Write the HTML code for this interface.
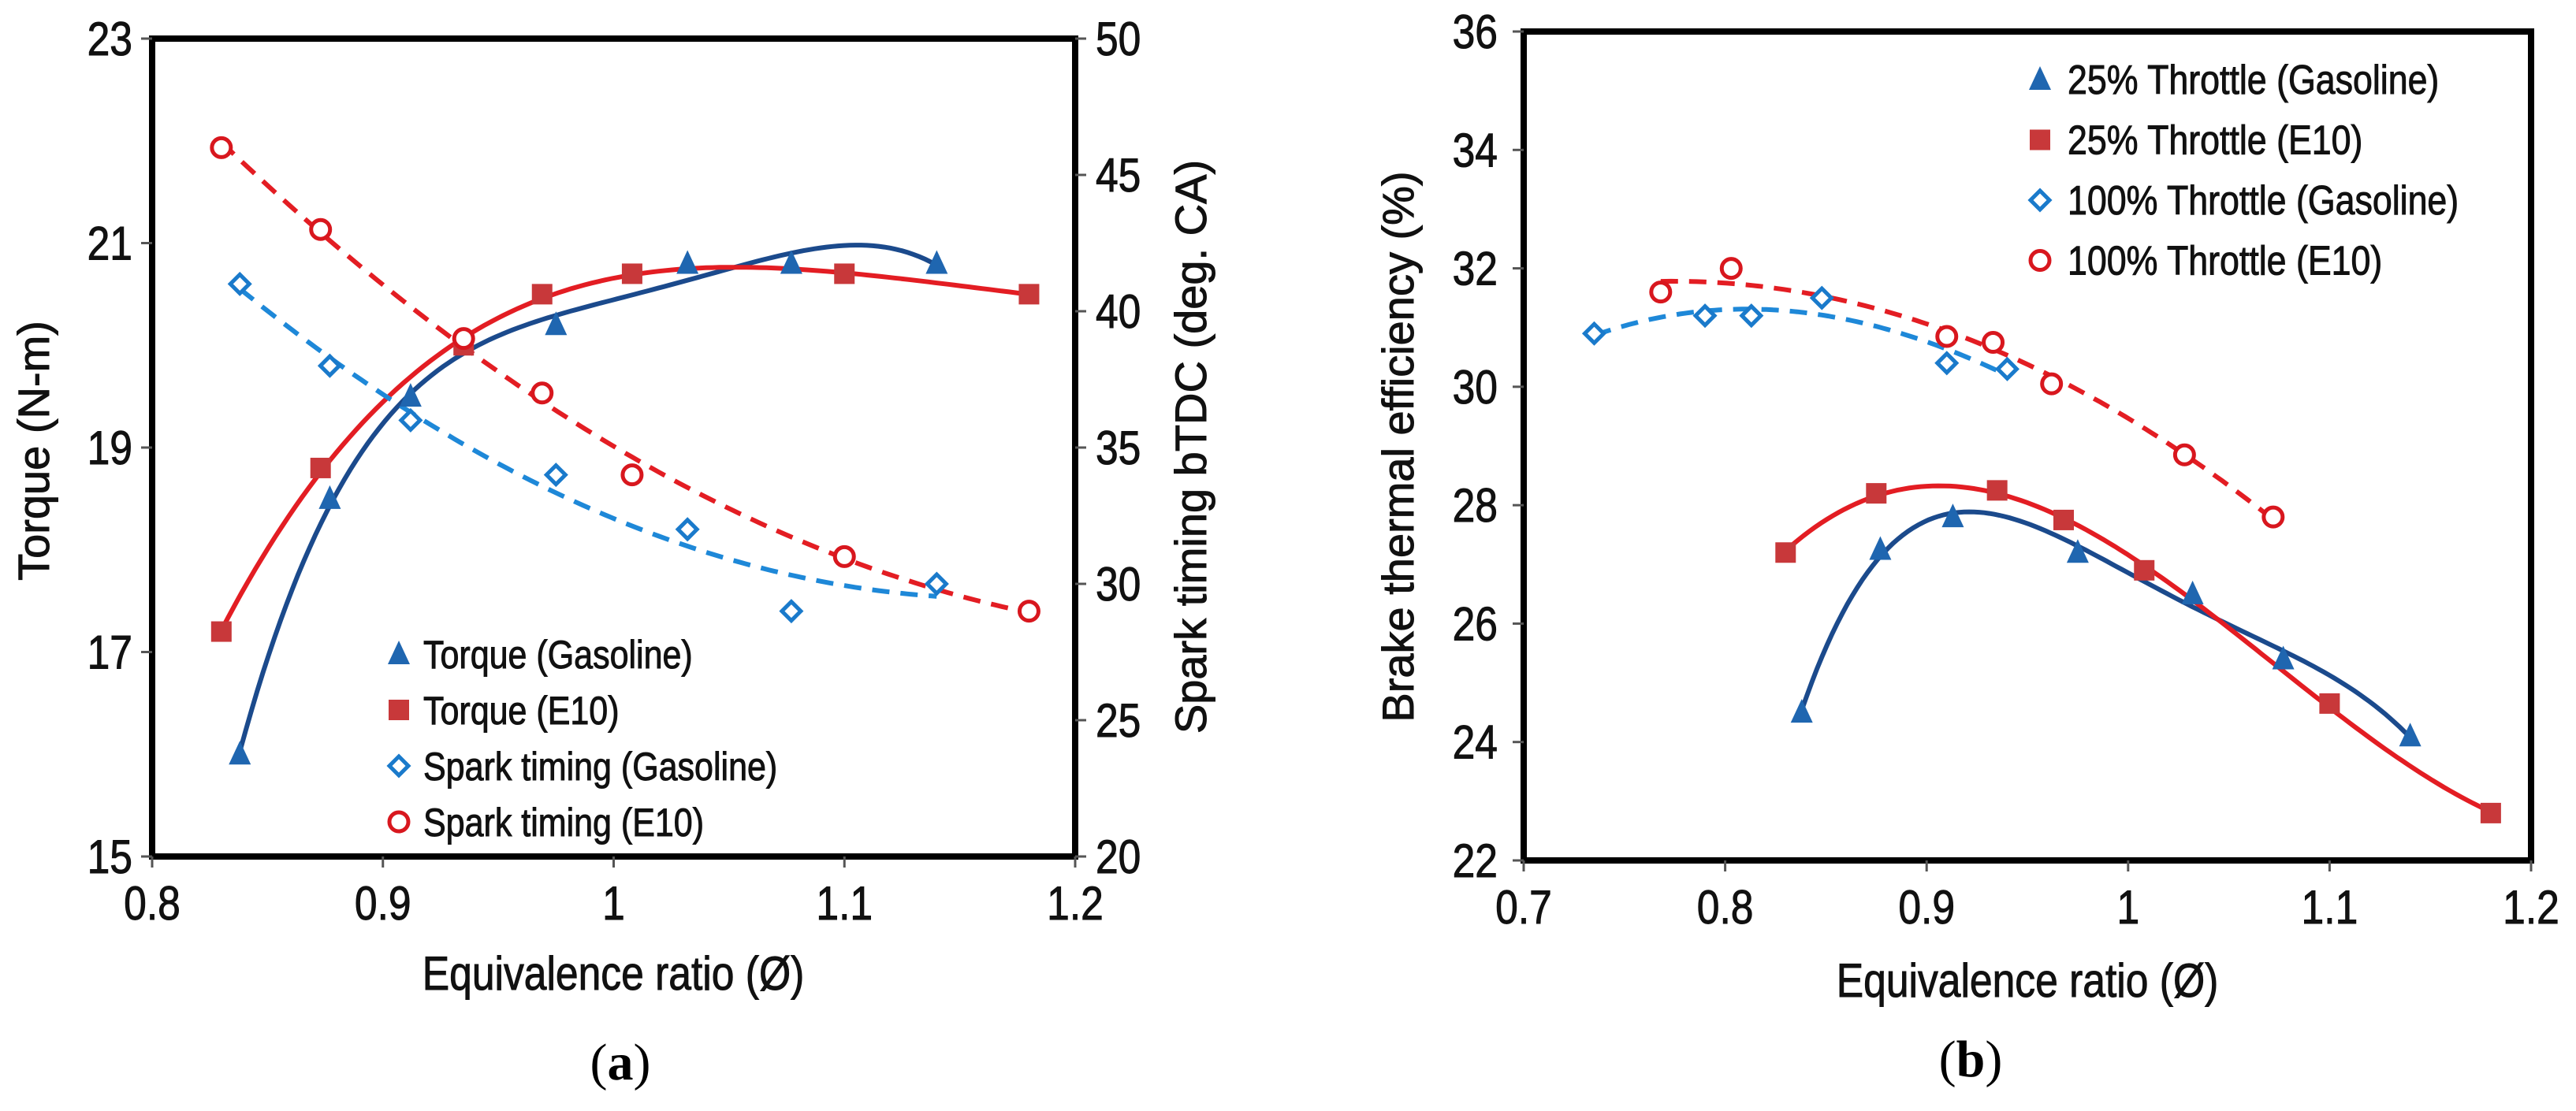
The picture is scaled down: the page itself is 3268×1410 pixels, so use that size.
<!DOCTYPE html>
<html><head><meta charset="utf-8"><style>
html,body{margin:0;padding:0;background:#fff;}
svg{display:block;}
</style></head>
<body>
<svg id="fig" width="3268" height="1410" viewBox="0 0 3268 1410" xmlns="http://www.w3.org/2000/svg" font-family="'Liberation Sans', sans-serif">
<rect width="3268" height="1410" fill="#fff"/>
<g id="chartA"></g>
<g id="chartB"></g>
</svg>
<script>
// ---- Chart (a) data ----
const aTorqueGasX = [0.838, 0.877, 0.912, 0.975, 1.032, 1.077, 1.14];
const aTorqueGasY = [16.0, 18.5, 19.5, 20.2, 20.8, 20.8, 20.8];
const aTorqueE10X = [0.83, 0.873, 0.935, 0.969, 1.008, 1.1, 1.18];
const aTorqueE10Y = [17.2, 18.8, 20.0, 20.5, 20.7, 20.7, 20.5];
const aSparkGasX = [0.838, 0.877, 0.912, 0.975, 1.032, 1.077, 1.14];
const aSparkGasY = [41, 38, 36, 34, 32, 29, 30];
const aSparkE10X = [0.83, 0.873, 0.935, 0.969, 1.008, 1.1, 1.18];
const aSparkE10Y = [46, 43, 39, 37, 34, 31, 29];
const aXTicks = [0.8, 0.9, 1.0, 1.1, 1.2];
const aXTickLabels = ["0.8", "0.9", "1", "1.1", "1.2"];
const aYLTicks = [15, 17, 19, 21, 23];
const aYRTicks = [20, 25, 30, 35, 40, 45, 50];
// ---- Chart (b) data ----
const b25GasX = [0.838, 0.877, 0.913, 0.975, 1.032, 1.077, 1.14];
const b25GasY = [24.5, 27.25, 27.8, 27.2, 26.5, 25.4, 24.1];
const b25E10X = [0.83, 0.875, 0.935, 0.968, 1.008, 1.1, 1.18];
const b25E10Y = [27.2, 28.2, 28.25, 27.75, 26.9, 24.65, 22.8];
const b100GasX = [0.735, 0.79, 0.813, 0.848, 0.91, 0.94];
const b100GasY = [30.9, 31.2, 31.2, 31.5, 30.4, 30.3];
const b100E10X = [0.768, 0.803, 0.91, 0.933, 0.962, 1.028, 1.072];
const b100E10Y = [31.6, 32.0, 30.85, 30.75, 30.05, 28.85, 27.8];
const bXTicks = [0.7, 0.8, 0.9, 1.0, 1.1, 1.2];
const bXTickLabels = ["0.7", "0.8", "0.9", "1", "1.1", "1.2"];
const bYTicks = [22, 24, 26, 28, 30, 32, 34, 36];

const NS = "http://www.w3.org/2000/svg";
function mk(parent, tag, attrs) {
  const e = document.createElementNS(NS, tag);
  for (const k in attrs) e.setAttribute(k, attrs[k]);
  parent.appendChild(e);
  return e;
}
function txt(parent, x, y, s, size, anchor, rot, sx) {
  const g = mk(parent, "g", {transform: "translate(" + x + "," + y + ")" + (rot ? " rotate(" + rot + ")" : "") + " scale(" + (sx || 0.86) + ",1)"});
  const t = mk(g, "text", {x: 0, y: 0, "font-size": size, "text-anchor": anchor || "start", fill: "#111", stroke: "#111", "stroke-width": 1});
  t.textContent = s;
  return t;
}
function polyfit(xs, ys, deg) {
  const n = deg + 1, A = [], b = [];
  for (let i = 0; i < n; i++) { A.push(new Array(n).fill(0)); b.push(0); }
  const xm = xs.reduce((a, c) => a + c, 0) / xs.length;
  for (let k = 0; k < xs.length; k++) {
    const u = xs[k] - xm;
    for (let i = 0; i < n; i++) {
      b[i] += ys[k] * Math.pow(u, i);
      for (let j = 0; j < n; j++) A[i][j] += Math.pow(u, i + j);
    }
  }
  for (let i = 0; i < n; i++) {
    let p = i;
    for (let r = i + 1; r < n; r++) if (Math.abs(A[r][i]) > Math.abs(A[p][i])) p = r;
    [A[i], A[p]] = [A[p], A[i]]; [b[i], b[p]] = [b[p], b[i]];
    for (let r = i + 1; r < n; r++) {
      const f = A[r][i] / A[i][i];
      for (let c = i; c < n; c++) A[r][c] -= f * A[i][c];
      b[r] -= f * b[i];
    }
  }
  const c = new Array(n).fill(0);
  for (let i = n - 1; i >= 0; i--) {
    let s = b[i];
    for (let j = i + 1; j < n; j++) s -= A[i][j] * c[j];
    c[i] = s / A[i][i];
  }
  return x => { let s = 0; const u = x - xm; for (let i = 0; i < n; i++) s += c[i] * Math.pow(u, i); return s; };
}
function curve(parent, xs, ys, deg, sx, sy, color, dash, name) {
  const f = polyfit(xs, ys, deg);
  const x0 = Math.min(...xs), x1 = Math.max(...xs);
  let d = "";
  for (let i = 0; i <= 120; i++) {
    const x = x0 + (x1 - x0) * i / 120;
    d += (i ? "L" : "M") + sx(x).toFixed(1) + "," + sy(f(x)).toFixed(1);
  }
  const p = mk(parent, "path", {d: d, fill: "none", stroke: color, "stroke-width": 6, "stroke-dasharray": dash || "none"});
  
  
}
function marker(parent, type, cx, cy, name) {
  let e;
  if (type === "tri") e = mk(parent, "path", {d: "M" + cx + "," + (cy - 17) + "L" + (cx + 14) + "," + (cy + 13) + "L" + (cx - 14) + "," + (cy + 13) + "Z", fill: "#1f66b0"});
  else if (type === "sq") e = mk(parent, "rect", {x: cx - 13, y: cy - 13, width: 26, height: 26, fill: "#c8383a"});
  else if (type === "dia") e = mk(parent, "path", {d: "M" + cx + "," + (cy - 12) + "L" + (cx + 12) + "," + cy + "L" + cx + "," + (cy + 12) + "L" + (cx - 12) + "," + cy + "Z", fill: "#fff", stroke: "#1a7acb", "stroke-width": 5});
  else e = mk(parent, "circle", {cx: cx, cy: cy, r: 12, fill: "#fff", stroke: "#d8171e", "stroke-width": 5});
  
  
}
function frame(parent, L, T, R, B) {
  const r = mk(parent, "rect", {x: L, y: T, width: R - L, height: B - T, fill: "none", stroke: "#000", "stroke-width": 8});
  
  
}
function panelLabel(parent, x, y, letter, name) {
  const t = mk(parent, "text", {x: x, y: y, "font-size": 66, "text-anchor": "middle", fill: "#000", "font-family": "'Liberation Serif', serif"});
  const a = mk(t, "tspan", {}); a.textContent = "(";
  const b = mk(t, "tspan", {"font-weight": "bold"}); b.textContent = letter;
  const c = mk(t, "tspan", {}); c.textContent = ")";
  
  
}

// ===== Chart (a) =====
(function () {
  const g = document.getElementById("chartA");
  const L = 193, R = 1364, T = 49, B = 1087;
  const sx = x => L + (x - 0.8) / 0.4 * (R - L);
  const syL = y => B - (y - 15) / 8 * (B - T);
  const syR = y => B - (y - 20) / 30 * (B - T);
  curve(g, aTorqueGasX, aTorqueGasY, 4, sx, syL, "#1b4a8c", null, "torque-gasoline-curve");
  curve(g, aTorqueE10X, aTorqueE10Y, 4, sx, syL, "#e31d23", null, "torque-e10-curve");
  curve(g, aSparkGasX, aSparkGasY, 2, sx, syR, "#1e88d8", "22,14", "spark-gasoline-curve");
  curve(g, aSparkE10X, aSparkE10Y, 2, sx, syR, "#e31d23", "22,14", "spark-e10-curve");
  aTorqueGasX.forEach((x, i) => marker(g, "tri", sx(x), syL(aTorqueGasY[i]), "torque-gasoline-point"));
  aTorqueE10X.forEach((x, i) => marker(g, "sq", sx(x), syL(aTorqueE10Y[i]), "torque-e10-point"));
  aSparkGasX.forEach((x, i) => marker(g, "dia", sx(x), syR(aSparkGasY[i]), "spark-gasoline-point"));
  aSparkE10X.forEach((x, i) => marker(g, "circ", sx(x), syR(aSparkE10Y[i]), "spark-e10-point"));
  frame(g, L, T, R, B);
  aXTicks.forEach((v, i) => {
    mk(g, "line", {x1: sx(v), x2: sx(v), y1: B, y2: B + 14, stroke: "#555", "stroke-width": 3});
    const t = txt(g, sx(v), B + 80, aXTickLabels[i], 60, "middle");
    
    
  });
  aYLTicks.forEach(v => {
    mk(g, "line", {x1: L - 14, x2: L, y1: syL(v), y2: syL(v), stroke: "#555", "stroke-width": 3});
    const t = txt(g, 168, syL(v) + 21, String(v), 60, "end");
    
    
  });
  aYRTicks.forEach(v => {
    mk(g, "line", {x1: R, x2: R + 14, y1: syR(v), y2: syR(v), stroke: "#555", "stroke-width": 3});
    const t = txt(g, 1390, syR(v) + 21, String(v), 60, "start");
    
    
  });
  let t = txt(g, 62, 572, "Torque (N-m)", 56, "middle", -90, 1);
  
  
  t = txt(g, 1530, 567, "Spark timing   bTDC (deg. CA)", 56, "middle", -90, 1);
  
  
  t = txt(g, 778, 1256, "Equivalence ratio (Ø)", 60, "middle");
  
  
  panelLabel(g, 787, 1370, "a", "panel-label-a");
  const leg = [["tri", "Torque (Gasoline)"], ["sq", "Torque (E10)"], ["dia", "Spark timing (Gasoline)"], ["circ", "Spark timing (E10)"]];
  leg.forEach((l, i) => {
    const y = 830 + i * 71;
    marker(g, l[0], 506, y, "legend-marker");
    const tt = txt(g, 537, y + 18, l[1], 50, "start");
    
    
  });
})();

// ===== Chart (b) =====
(function () {
  const g = document.getElementById("chartB");
  const L = 1933, R = 3211, T = 40, B = 1092;
  const sx = x => L + (x - 0.7) / 0.5 * (R - L);
  const sy = y => B - (y - 22) / 14 * (B - T);
  curve(g, b25GasX, b25GasY, 4, sx, sy, "#1b4a8c", null, "throttle25-gasoline-curve");
  curve(g, b25E10X, b25E10Y, 3, sx, sy, "#e31d23", null, "throttle25-e10-curve");
  curve(g, b100GasX, b100GasY, 3, sx, sy, "#1e88d8", "22,14", "throttle100-gasoline-curve");
  curve(g, b100E10X, b100E10Y, 2, sx, sy, "#e31d23", "22,14", "throttle100-e10-curve");
  b25GasX.forEach((x, i) => marker(g, "tri", sx(x), sy(b25GasY[i]), "throttle25-gasoline-point"));
  b25E10X.forEach((x, i) => marker(g, "sq", sx(x), sy(b25E10Y[i]), "throttle25-e10-point"));
  b100GasX.forEach((x, i) => marker(g, "dia", sx(x), sy(b100GasY[i]), "throttle100-gasoline-point"));
  b100E10X.forEach((x, i) => marker(g, "circ", sx(x), sy(b100E10Y[i]), "throttle100-e10-point"));
  frame(g, L, T, R, B);
  bXTicks.forEach((v, i) => {
    mk(g, "line", {x1: sx(v), x2: sx(v), y1: B, y2: B + 14, stroke: "#555", "stroke-width": 3});
    const t = txt(g, sx(v), B + 80, bXTickLabels[i], 60, "middle");
    
    
  });
  bYTicks.forEach(v => {
    mk(g, "line", {x1: L - 14, x2: L, y1: sy(v), y2: sy(v), stroke: "#555", "stroke-width": 3});
    const t = txt(g, 1900, sy(v) + 21, String(v), 60, "end");
    
    
  });
  let t = txt(g, 1793, 567, "Brake thermal efficiency (%)", 56, "middle", -90, 1);
  
  
  t = txt(g, 2572, 1265, "Equivalence ratio (Ø)", 60, "middle");
  
  
  panelLabel(g, 2500, 1366, "b", "panel-label-b");
  const leg = [["tri", "25% Throttle (Gasoline)"], ["sq", "25% Throttle (E10)"], ["dia", "100% Throttle  (Gasoline)"], ["circ", "100% Throttle (E10)"]];
  leg.forEach((l, i) => {
    const y = 101 + i * 76.5;
    marker(g, l[0], 2588, y, "legend-marker");
    const tt = txt(g, 2623, y + 18, l[1], 52, "start");
    
    
  });
})();
</script>
</body></html>
